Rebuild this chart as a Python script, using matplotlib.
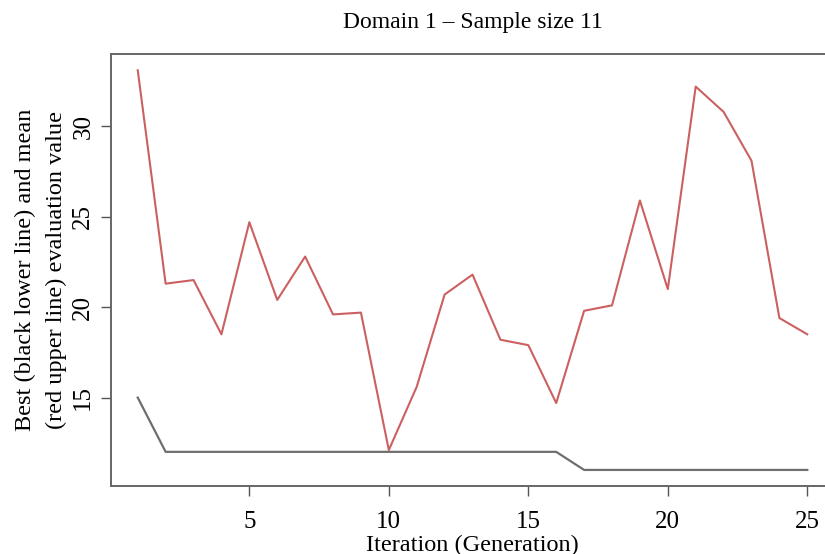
import matplotlib
matplotlib.use("Agg")
import matplotlib.pyplot as plt

iterations = list(range(1, 26))

mean_values = [
    33.1, 21.3, 21.5, 18.5, 24.7, 20.4, 22.8, 19.6, 19.7, 12.1,
    15.6, 20.7, 21.8, 18.2, 17.9, 14.7, 19.8, 20.1, 25.9, 21.0,
    32.2, 30.8, 28.1, 19.4, 18.5
]

best_values = [
    15, 12, 12, 12, 12, 12, 12, 12, 12, 12,
    12, 12, 12, 12, 12, 12, 11, 11, 11, 11,
    11, 11, 11, 11, 11
]

x_ticks = [5, 10, 15, 20, 25]
y_ticks = [15, 20, 25, 30]

plt.rcParams["font.family"] = ["Liberation Serif", "DejaVu Serif"]

fig = plt.figure(figsize=(8.25, 5.54), dpi=100)
ax = fig.add_axes([0.1345, 0.1227, 0.8765, 0.7798])

ax.plot(iterations, mean_values, color="#cc6060", linewidth=1.5)
ax.plot(iterations, best_values, color="#6e6e6e", linewidth=1.6)

ax.set_xlim(0.04, 25.96)
ax.set_ylim(10.11, 34.0)

ax.set_xticks(x_ticks)
ax.set_yticks(y_ticks)
ax.tick_params(axis="both", length=7, width=1, color="#555555",
               labelsize=18, direction="out")
ax.tick_params(axis="x", pad=11)
ax.tick_params(axis="y", pad=5)
for lab in ax.get_yticklabels():
    lab.set_rotation(90)
    lab.set_va("center")

for side in ["top", "left", "bottom", "right"]:
    ax.spines[side].set_color("#666666")
    ax.spines[side].set_linewidth(1.4)

ax.set_title("Domain 1 \u2013 Sample size 11", fontsize=17, pad=19)
ax.set_xlabel("Iteration (Generation)", fontsize=17.5, labelpad=1)
ax.set_ylabel("Best (black lower line) and mean\n(red upper line) evaluation value",
              fontsize=17.5, labelpad=4, linespacing=1.6)

fig.savefig("out.png", dpi=100)
